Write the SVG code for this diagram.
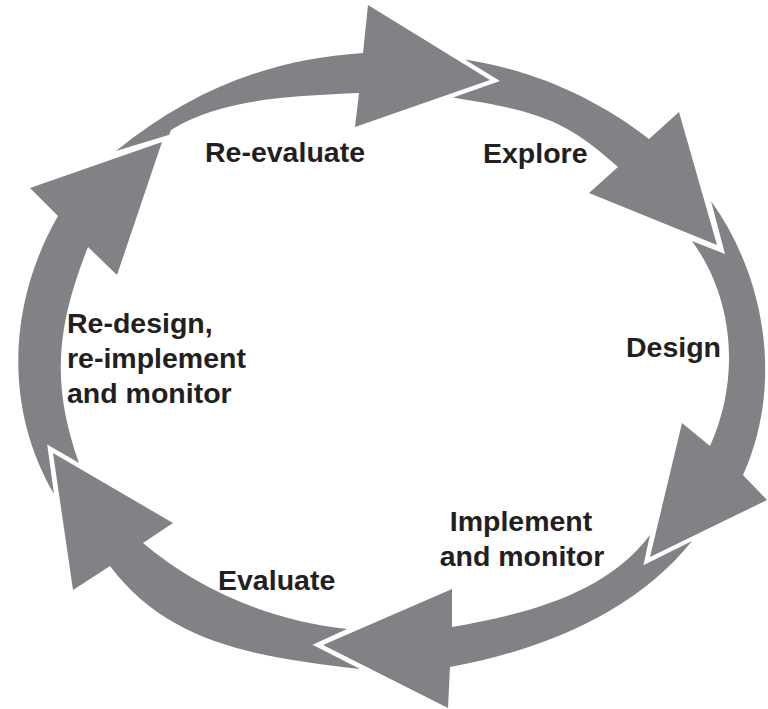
<svg xmlns="http://www.w3.org/2000/svg" width="768" height="709" viewBox="0 0 768 709">
  <style>
    .arrow { fill: #808285; stroke: none; }
    .label { font-family: "Liberation Sans", Arial, sans-serif; font-weight: bold; font-size: 28.5px; fill: #231f20; }
  </style>
  <rect width="768" height="709" fill="#ffffff"/>
  <g id="connectors">
    <path id="arrow-reevaluate" class="arrow" d="M171,130 C222,98 294,96 359,93 L355,127 L490,80 L368,5 L363,53 C269,59 190,91 116,151 L169.3,134.7 Z"/>
    <path id="arrow-explore" class="arrow" d="M465,59.5 C533,70 596,98 649,139 L679,112 L717,245 L589,193 L618,167 C563,117 534,111 453,97.5 L500,81 Z"/>
    <path id="arrow-design" class="arrow" d="M711,201 C767,279 783,387 743,475 L767,500 L650,557 L682,423 L710,446 C740,380 735,300 692,241 L725,254 Z"/>
    <path id="arrow-implement" class="arrow" d="M650,535 C605.6,594.2 524.9,614.4 452,627 L452,589 L323,645 L448,708 L450,667 C540.5,650.5 635,612.8 692,541 L643.4,565.2 Z"/>
    <path id="arrow-evaluate" class="arrow" d="M347,629 C272.5,620.8 200.2,591.6 143,543 L173,523 L53,453 L73,590 L110,566 C170,646 261,657 360,669 L312.5,644.7 Z"/>
    <path id="arrow-redesign" class="arrow" d="M79,463 C50.6,382.8 56.7,326 88,247 L117,275 L162,142 L30,188 L58,216 C8,303 3.6,407.6 54,494 L47.2,444.4 Z"/>
  </g>
  <g id="node-reevaluate"><text class="label" x="205" y="162">Re-evaluate</text></g>
  <g id="node-explore"><text class="label" x="483" y="163">Explore</text></g>
  <g id="node-design"><text class="label" x="626" y="357">Design</text></g>
  <g id="node-implement"><text class="label" x="521" y="531" text-anchor="middle">Implement</text><text class="label" x="522" y="566" text-anchor="middle">and monitor</text></g>
  <g id="node-evaluate"><text class="label" x="218" y="590">Evaluate</text></g>
  <g id="node-redesign"><text class="label" x="67" y="333">Re-design,</text><text class="label" x="67" y="368">re-implement</text><text class="label" x="67" y="403">and monitor</text></g>
</svg>
